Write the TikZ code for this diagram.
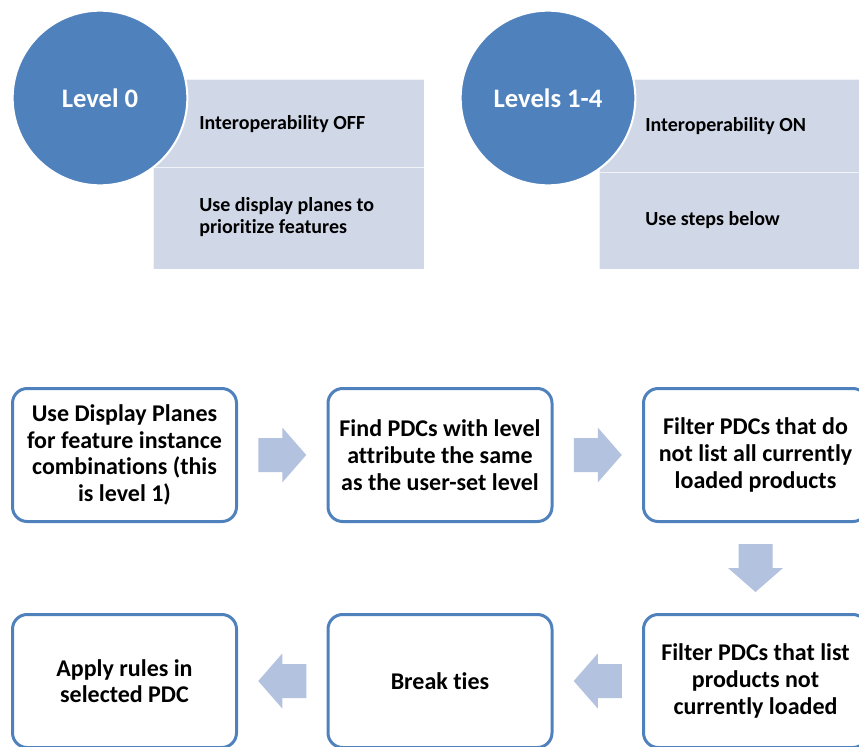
\documentclass[tikz,border=0pt]{standalone}
\usepackage{fontspec}
\setmainfont{Carlito}[Ligatures=NoCommon]
\usetikzlibrary{calc}
\definecolor{accentblue}{RGB}{79,129,189}
\definecolor{paneltint}{RGB}{208,216,232}
\definecolor{arrowtint}{RGB}{179,194,222}

\begin{document}
\begin{tikzpicture}[x=0.75pt,y=0.75pt,yscale=-1,xscale=1,
  level circle/.style={circle, fill=accentblue, draw=white, line width=1.5pt, minimum size=131pt, inner sep=0pt, text=white, font=\fontsize{20}{24}\selectfont\bfseries},
  panel/.style={fill=paneltint, draw=white, draw opacity=0.7, line width=0.75pt},
  panel text/.style={anchor=west, align=left, inner sep=0.75pt, font=\fontsize{15}{16.5}\selectfont\bfseries},
  step box/.style={draw=accentblue, line width=2.25pt, fill=white, rounded corners=11pt, minimum width=168pt, minimum height=99.75pt, align=center, font=\fontsize{18}{20}\selectfont\bfseries},
  flow arrow/.pic={\fill[arrowtint] (-24,-17) -- (0,-17) -- (0,-27.5) -- (24,0) -- (0,27.5) -- (0,17) -- (-24,17) -- cycle;}
]
\useasboundingbox (0,0) rectangle (859,746);
\clip (0,0) rectangle (859,746);

% level 0
\draw [panel] (153,79) rectangle (424,167);
\draw [panel] (153,167) rectangle (424,269);
\node [level circle] (lvl0) at (100,98) {Level 0};
\node [panel text] (off) at (198,124) {Interoperability OFF};
\node [panel text] (planes) at (198,217) {Use display planes to\\prioritize features};

% levels 1-4
\draw [panel] (599,79) rectangle (870,172);
\draw [panel] (599,172) rectangle (870,269);
\node [level circle] (lvl14) at (548,98) {Levels 1-4};
\node [panel text] (on) at (644,126) {Interoperability ON};
\node [panel text] (below) at (644,220) {Use steps below};

% steps
\node [step box] (s1) at (124.5,455) {Use Display Planes\\for feature instance\\combinations (this\\is level 1)};
\node [step box] (s2) at (440,455) {Find PDCs with level\\attribute the same\\as the user-set level};
\node [step box] (s3) at (755.5,455) {Filter PDCs that do\\not list all currently\\loaded products};
\node [step box] (s4) at (755.5,681) {Filter PDCs that list\\products not\\currently loaded};
\node [step box] (s5) at (440,681) {Break ties};
\node [step box] (s6) at (124.5,681) {Apply rules in\\selected PDC};

\pic at ($(s1.east)!0.5!(s2.west)$) {flow arrow};
\pic at ($(s2.east)!0.5!(s3.west)$) {flow arrow};
\pic [rotate=-90] at ($(s3.south)!0.5!(s4.north)$) {flow arrow};
\pic [rotate=180] at ($(s4.west)!0.5!(s5.east)$) {flow arrow};
\pic [rotate=180] at ($(s5.west)!0.5!(s6.east)$) {flow arrow};
\end{tikzpicture}
\end{document}
